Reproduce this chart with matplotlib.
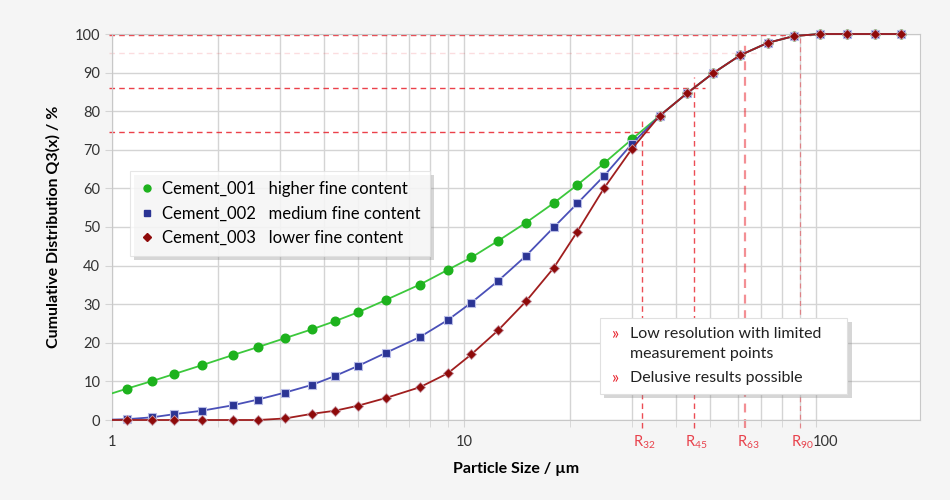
import matplotlib
matplotlib.use('Agg')
import matplotlib.pyplot as plt
import matplotlib.patheffects as pe
from matplotlib.lines import Line2D
from matplotlib.patches import Rectangle
from matplotlib.ticker import FixedLocator, NullFormatter, FixedFormatter

plt.rcParams['font.family'] = ['Lato', 'DejaVu Sans']
plt.rcParams['mathtext.default'] = 'regular'

# size classes (um) of the laser diffraction result
size = [0.9, 1.1, 1.3, 1.5, 1.8, 2.2, 2.6, 3.1, 3.7, 4.3, 5.0, 6.0, 7.5, 9.0,
        10.5, 12.5, 15, 18, 21, 25, 30, 36, 43, 51, 61, 73, 87, 103, 123, 147, 175]

# cumulative distribution Q3 / %
cem_001 = [5.6, 8.1, 10.1, 11.9, 14.2, 16.8, 18.9, 21.2, 23.5, 25.6, 27.9, 31.1, 35.1, 38.9,
           42.1, 46.4, 51.1, 56.2, 60.9, 66.5, 72.7, 78.8, 84.6, 89.8, 94.5, 97.7, 99.5,
           100, 100, 100, 100]
cem_002 = [0, 0.2, 0.7, 1.5, 2.4, 3.8, 5.3, 7.1, 9.1, 11.4, 14.0, 17.4, 21.5, 25.9,
           30.4, 36.0, 42.5, 49.9, 56.1, 63.2, 71.5, 78.8, 84.6, 89.8, 94.5, 97.7, 99.5,
           100, 100, 100, 100]
cem_003 = [0, 0, 0, 0, 0, 0, 0, 0.4, 1.6, 2.4, 3.7, 5.7, 8.5, 12.1,
           17.0, 23.2, 30.7, 39.4, 48.8, 60.0, 70.2, 78.8, 84.6, 89.8, 94.5, 97.7, 99.5,
           100, 100, 100, 100]

names = ['Cement_001', 'Cement_002', 'Cement_003']
descr = ['higher fine content', 'medium fine content', 'lower fine content']

# sieve residues read at these sizes
r_size = [32, 45, 63, 90]
r_q3 = [74.5, 85.9, 95.0, 99.7]
r_names = ['32', '45', '63', '90']

fig = plt.figure(figsize=(9.5, 5), dpi=100, facecolor='#f5f5f5')
ax = fig.add_axes([0.118, 0.16, 0.8505, 0.772])
ax.set_facecolor('white')

ax.set_xscale('log')
ax.set_xlim(1, 198)
ax.set_ylim(0, 100)

# reference lines for R values
h_alpha = [0.85, 0.85, 0.15, 0.8]
v_alpha = [0.8, 0.8, 0.5, 0.45]
v_lw = [1.0, 1.0, 1.6, 0.9]
red = '#e8202a'
for i in range(len(r_size)):
    ax.plot([0.98, r_size[i] * 1.08], [r_q3[i], r_q3[i]], ls=(0, (4, 3)), lw=1,
            color=red, alpha=h_alpha[i], clip_on=False, zorder=2)
    ax.plot([r_size[i], r_size[i]], [-2.2, min(r_q3[i] + 3, 100)], ls=(0, (4, 3)),
            lw=v_lw[i], color=red, alpha=v_alpha[i], clip_on=False, zorder=2)
    ax.annotate('R$_{%s}$' % r_names[i], xy=(r_size[i], 0), xytext=(-6, -10),
                textcoords='offset points', ha='left', va='top', fontsize=10.5,
                color='#e8414b', annotation_clip=False)

# clip the curves at the left edge only, so markers at 0 stay whole
clip = Rectangle((0, -0.05), 1.05, 1.1, transform=ax.transAxes, fill=False, visible=False)
ax.add_patch(clip)

l1, = ax.plot(size, cem_001, color='#3cc83c', lw=1.3, marker='o', ms=6.2,
              mfc='#1db21d', mec='#1db21d', zorder=4)
l2, = ax.plot(size, cem_002, color='#4a50b8', lw=1.3, marker='s', ms=6,
              mfc='#2b3494', mec='#b8bce6', mew=0.8, zorder=5)
l3, = ax.plot(size, cem_003, color='#a01e1e', lw=1.3, marker='D', ms=5,
              mfc='#8e0a0a', mec='#c89aa8', mew=0.6, zorder=6)
for ln in (l1, l2, l3):
    ln.set_clip_path(clip)

# ticks and grid
ax.xaxis.set_major_locator(FixedLocator([1, 10, 100]))
ax.xaxis.set_major_formatter(FixedFormatter(['1', '10', '']))
minor = [2, 3, 4, 5, 6, 7, 8, 9, 20, 30, 40, 50, 60, 70, 80, 90]
ax.xaxis.set_minor_locator(FixedLocator(minor))
ax.xaxis.set_minor_formatter(NullFormatter())
ax.set_yticks(range(0, 101, 10))
ax.grid(True, which='both', color='#d4d4d4', lw=1)
ax.set_axisbelow(True)
ax.tick_params(axis='both', which='both', length=5, color='#d4d4d4',
               labelsize=10.5, labelcolor='#333333')
ax.tick_params(axis='x', which='major', pad=6)
for s in ax.spines.values():
    s.set_color('#c8c8c8')
# the 100 label sits a bit to the right, next to R90
ax.annotate('100', xy=(100, 0), xytext=(7, -11), textcoords='offset points',
            ha='center', va='top', fontsize=10.5, color='#333333', annotation_clip=False)

ax.set_xlabel('Particle Size / µm', fontsize=11.5, fontweight='bold', labelpad=9)
ax.set_ylabel('Cumulative Distribution Q3(x) / %', fontsize=11.5, fontweight='bold', labelpad=10)

# legend
handles = [
    Line2D([], [], ls='none', marker='o', ms=5, mfc='#1db21d', mec='#1db21d'),
    Line2D([], [], ls='none', marker='s', ms=5, mfc='#2b3494', mec='#2b3494'),
    Line2D([], [], ls='none', marker='D', ms=4.5, mfc='#8e0a0a', mec='#8e0a0a'),
]
labels = [n + '   ' + d for n, d in zip(names, descr)]
leg = ax.legend(handles, labels, loc='upper left', bbox_to_anchor=(0.022, 0.645),
                borderaxespad=0, fancybox=False, frameon=True, fontsize=12,
                handlelength=0.8, handletextpad=0.5, labelspacing=0.5,
                borderpad=0.6, edgecolor='#e0e0e0')
leg.get_frame().set_linewidth(0.8)
leg.get_frame().set_path_effects([pe.SimplePatchShadow(offset=(3, -3), shadow_rgbFace='0.55', alpha=0.35), pe.Normal()])
leg.set_zorder(10)

# note box
box = Rectangle((0.604, 0.067), 0.306, 0.197, transform=ax.transAxes, facecolor='white',
                edgecolor='#e0e0e0', lw=0.8, zorder=10)
box.set_path_effects([pe.SimplePatchShadow(offset=(3, -3), shadow_rgbFace='0.55', alpha=0.35), pe.Normal()])
ax.add_patch(box)
note_y = [0.223, 0.170, 0.108]
note_txt = ['Low resolution with limited', 'measurement points', 'Delusive results possible']
note_bullet = [True, False, True]
for yy, t, b in zip(note_y, note_txt, note_bullet):
    if b:
        ax.text(0.619, yy, '»', transform=ax.transAxes, fontsize=12, color='#e8202a',
                va='center', ha='left', zorder=11)
    ax.text(0.641, yy, t, transform=ax.transAxes, fontsize=11.5, color='#222222',
            va='center', ha='left', zorder=11)

fig.savefig('out.png', dpi=100, facecolor=fig.get_facecolor())
